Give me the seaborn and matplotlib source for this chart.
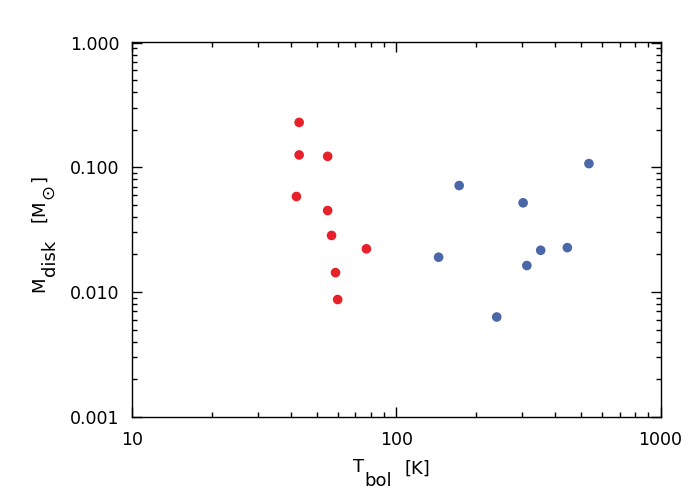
import matplotlib
matplotlib.use("Agg")
import matplotlib.pyplot as plt
import seaborn as sns
import pandas as pd
from matplotlib.transforms import IdentityTransform
from matplotlib.ticker import LogLocator, FixedLocator, FixedFormatter, NullFormatter

red_tbol = [42.9, 42.9, 55.0, 41.9, 55.0, 56.9, 77.1, 58.9, 60.0]
red_mdisk = [0.229, 0.1256, 0.1224, 0.0583, 0.045, 0.0284, 0.0222, 0.0143, 0.0087]
blue_tbol = [536, 173, 302, 144.6, 352, 444, 312, 240]
blue_mdisk = [0.107, 0.0714, 0.0519, 0.0190, 0.0216, 0.0227, 0.0163, 0.0063]

x_ticks = [10, 100, 1000]
x_ticklabels = ["10", "100", "1000"]
y_ticks = [0.001, 0.01, 0.1, 1.0]
y_ticklabels = ["0.001", "0.010", "0.100", "1.000"]

df = pd.DataFrame({
    "Tbol": red_tbol + blue_tbol,
    "Mdisk": red_mdisk + blue_mdisk,
    "group": ["red"] * len(red_tbol) + ["blue"] * len(blue_tbol),
})

sns.set_style("white")
plt.rcParams["font.family"] = ["DejaVu Sans"]
plt.rcParams["text.color"] = "black"
plt.rcParams["xtick.color"] = "black"
plt.rcParams["ytick.color"] = "black"
plt.rcParams["xtick.labelcolor"] = "black"
plt.rcParams["ytick.labelcolor"] = "black"

fig = plt.figure(figsize=(7, 5), dpi=100)
ax = fig.add_axes([0.1886, 0.1666, 0.7550, 0.7504])

sns.scatterplot(data=df, x="Tbol", y="Mdisk", hue="group",
                palette={"red": "#E8202A", "blue": "#4A67A8"},
                s=48, linewidth=0, legend=False, ax=ax)

ax.set_xscale("log")
ax.set_yscale("log")
ax.set_xlim(10, 1000)
ax.set_ylim(0.001, 1.02)

ax.xaxis.set_major_locator(FixedLocator(x_ticks))
ax.xaxis.set_major_formatter(FixedFormatter(x_ticklabels))
ax.yaxis.set_major_locator(FixedLocator(y_ticks))
ax.yaxis.set_major_formatter(FixedFormatter(y_ticklabels))
ax.xaxis.set_minor_locator(LogLocator(base=10, subs=range(2, 10)))
ax.yaxis.set_minor_locator(LogLocator(base=10, subs=range(2, 10)))
ax.xaxis.set_minor_formatter(NullFormatter())
ax.yaxis.set_minor_formatter(NullFormatter())

ax.tick_params(which="both", direction="in", top=True, right=True,
               bottom=True, left=True, color="black", labelcolor="black",
               width=1.0)
ax.tick_params(which="major", length=7.5, labelsize=12.5)
ax.tick_params(axis="x", which="major", pad=10)
ax.tick_params(axis="y", which="major", pad=9)
ax.tick_params(which="minor", length=3.7)
for sp in ax.spines.values():
    sp.set_color("black")
    sp.set_linewidth(1.0)
ax.set_xlabel("")
ax.set_ylabel("")

renderer = fig.canvas.get_renderer()
H = 500
FS = 13


def chain_h(pieces, x0, y0):
    # pieces: (text, baseline offset in px downward, gap before)
    x = x0
    for txt, dy, gap in pieces:
        x += gap
        t = fig.text(x, H - y0 - dy, txt, transform=IdentityTransform(),
                     fontsize=FS, ha="left", va="baseline", color="black")
        x += t.get_window_extent(renderer).width


def chain_v(pieces, x0, y0):
    # rotated 90 deg: text reads upward; baseline on the right side
    y = H - y0
    for txt, dx, gap in pieces:
        y += gap
        t = fig.text(x0 + dx, y, txt, transform=IdentityTransform(),
                     fontsize=FS, rotation=90, rotation_mode="anchor",
                     ha="left", va="baseline", color="black")
        y += t.get_window_extent(renderer).height


chain_h([("T", 0, 0), ("bol", 14, 0), ("[K]", 1, 13)], 353, 472.5)
chain_v([("M", 0, 0), ("disk", 11, 0), ("[M", 0, 18), ("\u2299", 9, 1), ("]", 0, 2)], 44, 292)

fig.savefig("out.png", dpi=100)
